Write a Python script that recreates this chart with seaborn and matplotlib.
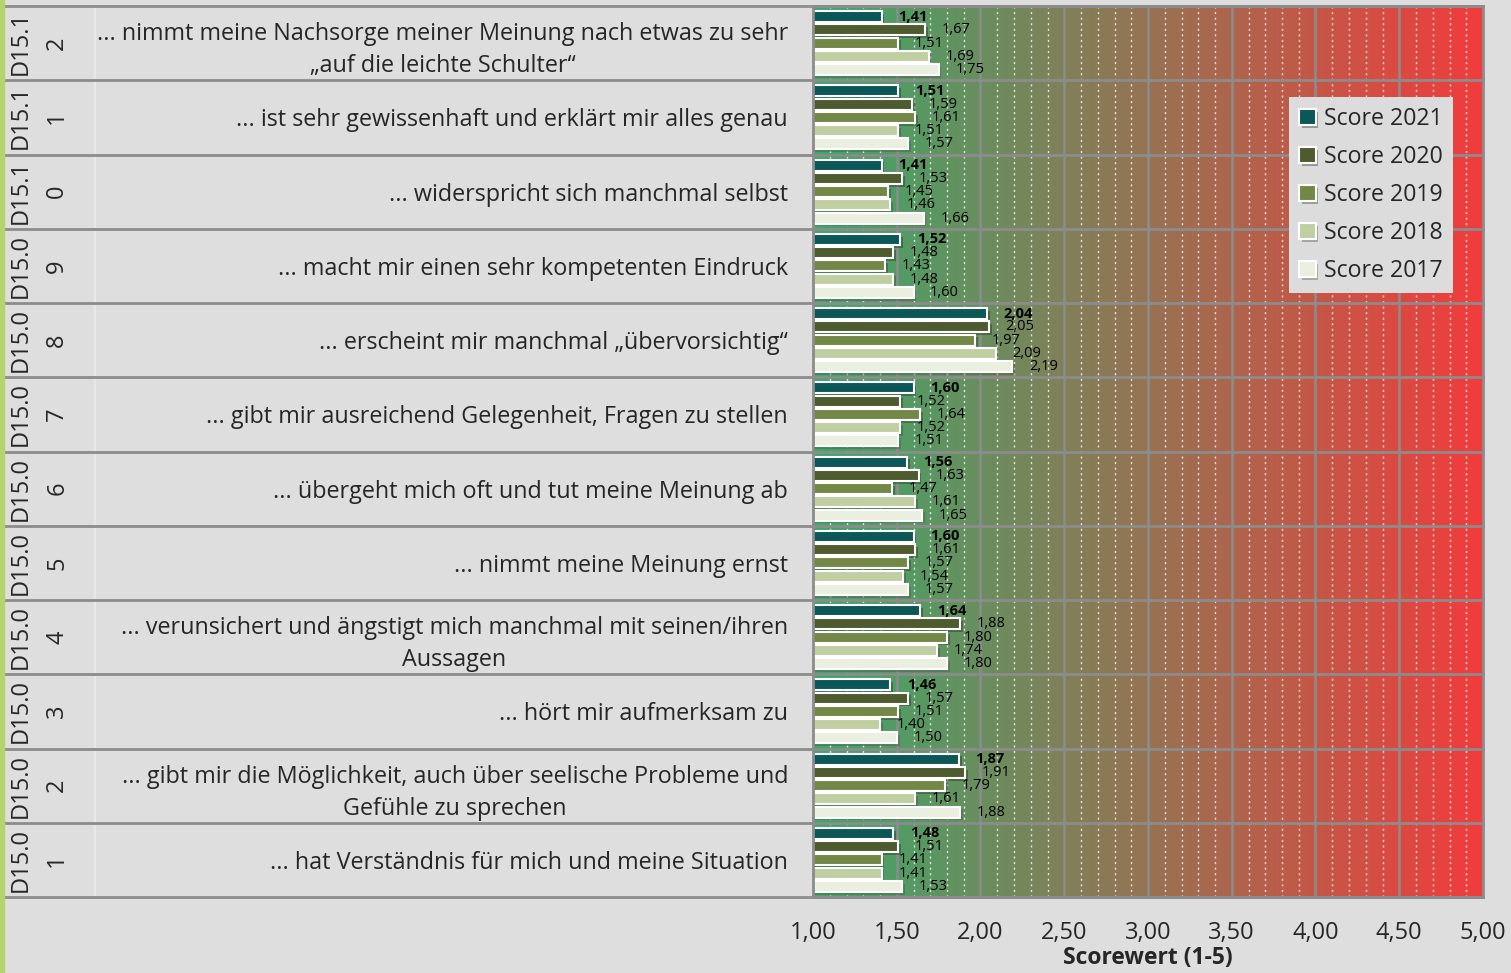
import numpy as np
import pandas as pd
import matplotlib
matplotlib.use("Agg")
import matplotlib.pyplot as plt
import matplotlib.patheffects as pe
from matplotlib.colors import LinearSegmentedColormap
from matplotlib.patches import Rectangle
import matplotlib.transforms as mtransforms
import seaborn as sns

# data (top row first)
codes = ["D15.12", "D15.11", "D15.10", "D15.09", "D15.08", "D15.07",
         "D15.06", "D15.05", "D15.04", "D15.03", "D15.02", "D15.01"]
items = [
    "... nimmt meine Nachsorge meiner Meinung nach etwas zu sehr\n„auf die leichte Schulter“",
    "... ist sehr gewissenhaft und erklärt mir alles genau",
    "... widerspricht sich manchmal selbst",
    "... macht mir einen sehr kompetenten Eindruck",
    "... erscheint mir manchmal „übervorsichtig“",
    "... gibt mir ausreichend Gelegenheit, Fragen zu stellen",
    "... übergeht mich oft und tut meine Meinung ab",
    "... nimmt meine Meinung ernst",
    "... verunsichert und ängstigt mich manchmal mit seinen/ihren\nAussagen",
    "... hört mir aufmerksam zu",
    "... gibt mir die Möglichkeit, auch über seelische Probleme und\nGefühle zu sprechen",
    "... hat Verständnis für mich und meine Situation",
]
series = ["Score 2021", "Score 2020", "Score 2019", "Score 2018", "Score 2017"]
score_2021 = [1.41, 1.51, 1.41, 1.52, 2.04, 1.60, 1.56, 1.60, 1.64, 1.46, 1.87, 1.48]
score_2020 = [1.67, 1.59, 1.53, 1.48, 2.05, 1.52, 1.63, 1.61, 1.88, 1.57, 1.91, 1.51]
score_2019 = [1.51, 1.61, 1.45, 1.43, 1.97, 1.64, 1.47, 1.57, 1.80, 1.51, 1.79, 1.41]
score_2018 = [1.69, 1.51, 1.46, 1.48, 2.09, 1.52, 1.61, 1.54, 1.74, 1.40, 1.61, 1.41]
score_2017 = [1.75, 1.57, 1.66, 1.60, 2.19, 1.51, 1.65, 1.57, 1.80, 1.50, 1.88, 1.53]
colors = ["#006363", "#4f6228", "#77933c", "#c3d69b", "#ebf1de"]

values = [score_2021, score_2020, score_2019, score_2018, score_2017]
df = pd.DataFrame([
    {"code": c, "series": s, "score": v[i]}
    for s, v in zip(series, values)
    for i, c in enumerate(codes)
])

sns.set_style("white")
plt.rcParams["font.family"] = ["Open Sans", "DejaVu Sans"]
bg = "#dedede"
line_gray = "#8c8c8c"

W, H = 1511, 973
fig = plt.figure(figsize=(W / 100, H / 100), dpi=100, facecolor=bg)
ax = fig.add_axes([813 / W, 1 - 897 / H, (1483 - 813) / W, (897 - 6) / H])

# green strip on the far left
fig.patches.append(Rectangle((0, 0), 4 / W, 1, transform=fig.transFigure,
                             color="#b5d56a", zorder=0))

# gradient background green -> red
cmap = LinearSegmentedColormap.from_list("gr", ["#3ca96a", "#f23c3c"])
ax.imshow(np.linspace(0, 1, 256).reshape(1, -1), extent=[1, 5, 11.5, -0.5],
          aspect="auto", cmap=cmap, zorder=0)

sns.barplot(data=df, x="score", y="code", hue="series", order=codes,
            hue_order=series, palette=colors, orient="h", width=0.89, gap=0.17,
            errorbar=None, edgecolor="white", linewidth=1.5, ax=ax, zorder=2)

for bar in ax.patches:
    bar.set_path_effects([pe.SimplePatchShadow(offset=(2, -2), alpha=0.35), pe.Normal()])

for k, cont in enumerate(ax.containers):
    ax.bar_label(cont, labels=[f"{v:.2f}".replace(".", ",") for v in values[k]],
                 padding=12, fontsize=10.5, color="black",
                 fontweight="bold" if k == 0 else "normal")

ax.set_xlim(1, 5)
ax.set_ylim(11.5, -0.5)
ax.set_axisbelow(True)

ticks = np.arange(1, 5.01, 0.5)
ax.set_xticks(ticks, labels=[f"{t:.2f}".replace(".", ",") for t in ticks], fontsize=17)
ax.set_xticks(np.arange(1, 5.001, 0.1), minor=True)
ax.grid(axis="x", which="major", color=line_gray, lw=1.8)
ax.grid(axis="x", which="minor", color="white", lw=1.0, ls=(0, (1.5, 2.5)), alpha=0.8)
ax.tick_params(axis="x", which="major", length=7, width=1.5, color=line_gray, pad=10, direction="out")
ax.tick_params(axis="x", which="minor", length=0)
ax.set_xlabel("Scorewert (1-5)", fontsize=16.5, fontweight="bold", labelpad=1)

ax.set_yticks(range(len(codes)), labels=items, fontsize=16.8)
ax.tick_params(axis="y", length=0, pad=18)
for lab in ax.get_yticklabels():
    lab.set_multialignment("center")
    lab.set_linespacing(1.45)
ax.set_ylabel("")

for sp in ax.spines.values():
    sp.set_color(line_gray)
    sp.set_linewidth(2)

# row separators across label columns and plot
for i in range(len(codes) + 1):
    ax.axhline(i - 0.5, xmin=(4 - 813) / 670, xmax=1, color=line_gray, lw=2,
               clip_on=False, zorder=3)

# code column
blend = mtransforms.blended_transform_factory(fig.transFigure, ax.transData)
ax.plot([95 / W, 95 / W], [-0.5, 11.5], transform=blend, color="#ebebeb",
        lw=1.2, clip_on=False)
for i, c in enumerate(codes):
    ax.text(39 / W, i, c[:5] + "\n" + c[5:], transform=blend, rotation=90,
            ha="center", va="center", multialignment="center", fontsize=17,
            linespacing=1.7, clip_on=False)

leg = ax.legend(loc="upper right", bbox_to_anchor=(0.955, 0.898), fontsize=16.7,
                facecolor="#dcdcdc", edgecolor="none", framealpha=1, fancybox=False,
                handlelength=0.7, handleheight=0.7, handletextpad=0.35,
                labelspacing=0.6, borderpad=0.45, borderaxespad=0, title=None)

fig.savefig("out.png", dpi=100, facecolor=bg)
